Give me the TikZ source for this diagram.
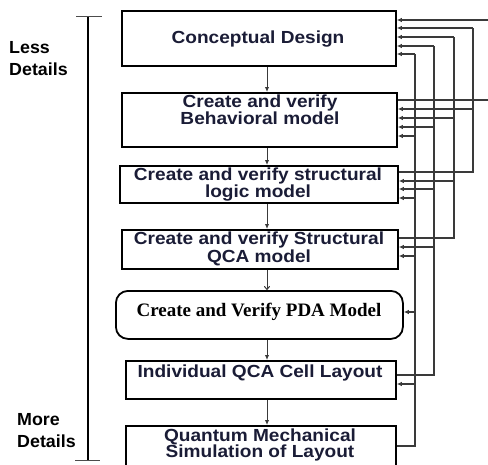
\documentclass[tikz,border=0pt]{standalone}
\usepackage{fontspec}
\setmainfont{Liberation Sans}
\newfontfamily\bxf{Liberation Sans}[FakeStretch=1.09]
\newfontfamily\lbf{Liberation Sans}[FakeStretch=1.02]
\newfontfamily\tmf{Liberation Serif}
\usetikzlibrary{arrows.meta,calc}
\definecolor{txtc}{HTML}{1A1C36}
\definecolor{fbc}{HTML}{3A3A3A}
\begin{document}
\begin{tikzpicture}[x=1pt,y=-1pt,
 box/.style={draw=black, line width=1.8pt, fill=white, inner sep=0pt, anchor=north west},
 txt/.style={font=\bxf\bfseries\fontsize{17.5}{16.2}\selectfont, text=txtc, align=center, inner sep=0pt},
 lab/.style={font=\lbf\bfseries\fontsize{17.5}{22}\selectfont, align=left, inner sep=0pt, anchor=west},
 fb/.style={draw=fbc, line width=1.3pt},
 fba/.style={draw=fbc, line width=1.3pt, -{Latex[length=5pt,width=4.5pt]}},
 dn/.style={draw=fbc, line width=1pt, -{Latex[length=5pt,width=4.5pt]}},
 ]
\useasboundingbox (0,0) rectangle (488,464);
\clip (0,0) rectangle (488,464);

% boxes
\node[box, minimum width=274pt, minimum height=55pt] (b1) at (121,10) {};
\node[box, minimum width=275pt, minimum height=54pt] (b2) at (121,92) {};
\node[box, minimum width=278pt, minimum height=37pt] (b3) at (119,165) {};
\node[box, minimum width=276pt, minimum height=39pt] (b4) at (121,229) {};
\node[box, minimum width=287pt, minimum height=48pt, rounded corners=12pt] (b5) at (115,290) {};
\node[box, minimum width=270pt, minimum height=38pt] (b6) at (125,360) {};
\node[box, minimum width=270pt, minimum height=42pt] (b7) at (125,425) {};

% texts
\node[txt] (t1) at (258,39) {Conceptual Design};
\node[txt] (t2) at (260,110) {Create and verify\\Behavioral model};
\node[txt] (t3) at (258,184.5) {Create and verify structural\\logic model};
\node[txt] (t4) at (259,249) {Create and verify Structural\\QCA model};
\node[inner sep=0pt, font=\tmf\bfseries\fontsize{19}{22}\selectfont, text=black] (t5) at (259,312) {Create and Verify PDA Model};
\node[txt] (t6) at (260,373) {Individual QCA Cell Layout};
\node[txt] (t7) at (260,445) {Quantum Mechanical\\Simulation of Layout};

% side labels
\node[lab] (less) at (9,58.3) {Less\\Details};
\node[lab] (more) at (17,430.8) {More\\Details};
\coordinate (top) at (88,16);
\coordinate (bot) at (88,460);
\draw[line width=2pt] (top) -- (bot);
\draw[line width=1pt, black!70] (76,16) -- (102,16);
\draw[line width=1pt, black!70] (75,460) -- (100,460);

% down arrows
\coordinate (ax) at (267,0);
\draw[dn] (b1.south -| ax) -- (b2.north -| ax);
\draw[dn] (b2.south -| ax) -- (b3.north -| ax);
\draw[dn] (b3.south -| ax) -- (b4.north -| ax);
\draw[draw=fbc, line width=1pt, -{To[length=4pt,width=6pt]}] (b4.south -| ax) -- (b5.north -| ax);
\draw[dn] (b5.south -| ax) -- (b6.north -| ax);
\draw[dn] (b6.south -| ax) -- (b7.north -| ax);

% feedback verticals
\coordinate (v1) at (500,0);
\coordinate (v2) at (473,0);
\coordinate (v3) at (454,0);
\coordinate (v4) at (434,0);
\coordinate (v5) at (415,0);

% from b2
\draw[fb] (b2.east |- 0,100) -- (v1 |- 0,100) -- (v1 |- 0,20);
\draw[fba] (v1 |- 0,20) -- (b1.east |- 0,20);

% from b3
\draw[fb] (b3.east |- 0,172) -- (v2 |- 0,172) -- (v2 |- 0,28);
\draw[fba] (v2 |- 0,28) -- (b1.east |- 0,28);
\draw[fba] (v2 |- 0,109) -- (b2.east |- 0,109);

% from b4
\draw[fb] (b4.east |- 0,238) -- (v3 |- 0,238) -- (v3 |- 0,37);
\draw[fba] (v3 |- 0,37) -- (b1.east |- 0,37);
\draw[fba] (v3 |- 0,118) -- (b2.east |- 0,118);
\draw[fba] (v3 |- 0,181) -- (b3.east |- 0,181);

% from b6
\draw[fb] (b6.east |- 0,375) -- (v4 |- 0,375) -- (v4 |- 0,46);
\draw[fba] (v4 |- 0,46) -- (b1.east |- 0,46);
\draw[fba] (v4 |- 0,127) -- (b2.east |- 0,127);
\draw[fba] (v4 |- 0,189) -- (b3.east |- 0,189);
\draw[fba] (v4 |- 0,247) -- (b4.east |- 0,247);

% from b7
\draw[fb] (b7.east |- 0,446) -- (v5 |- 0,446) -- (v5 |- 0,54);
\draw[fba] (v5 |- 0,54) -- (b1.east |- 0,54);
\draw[fba] (v5 |- 0,136) -- (b2.east |- 0,136);
\draw[fba] (v5 |- 0,198) -- (b3.east |- 0,198);
\draw[fba] (v5 |- 0,256) -- (b4.east |- 0,256);
\draw[fba] (v5 |- 0,312) -- (b5.east |- 0,312);
\draw[fba] (v5 |- 0,384) -- (b6.east |- 0,384);
\end{tikzpicture}
\end{document}
